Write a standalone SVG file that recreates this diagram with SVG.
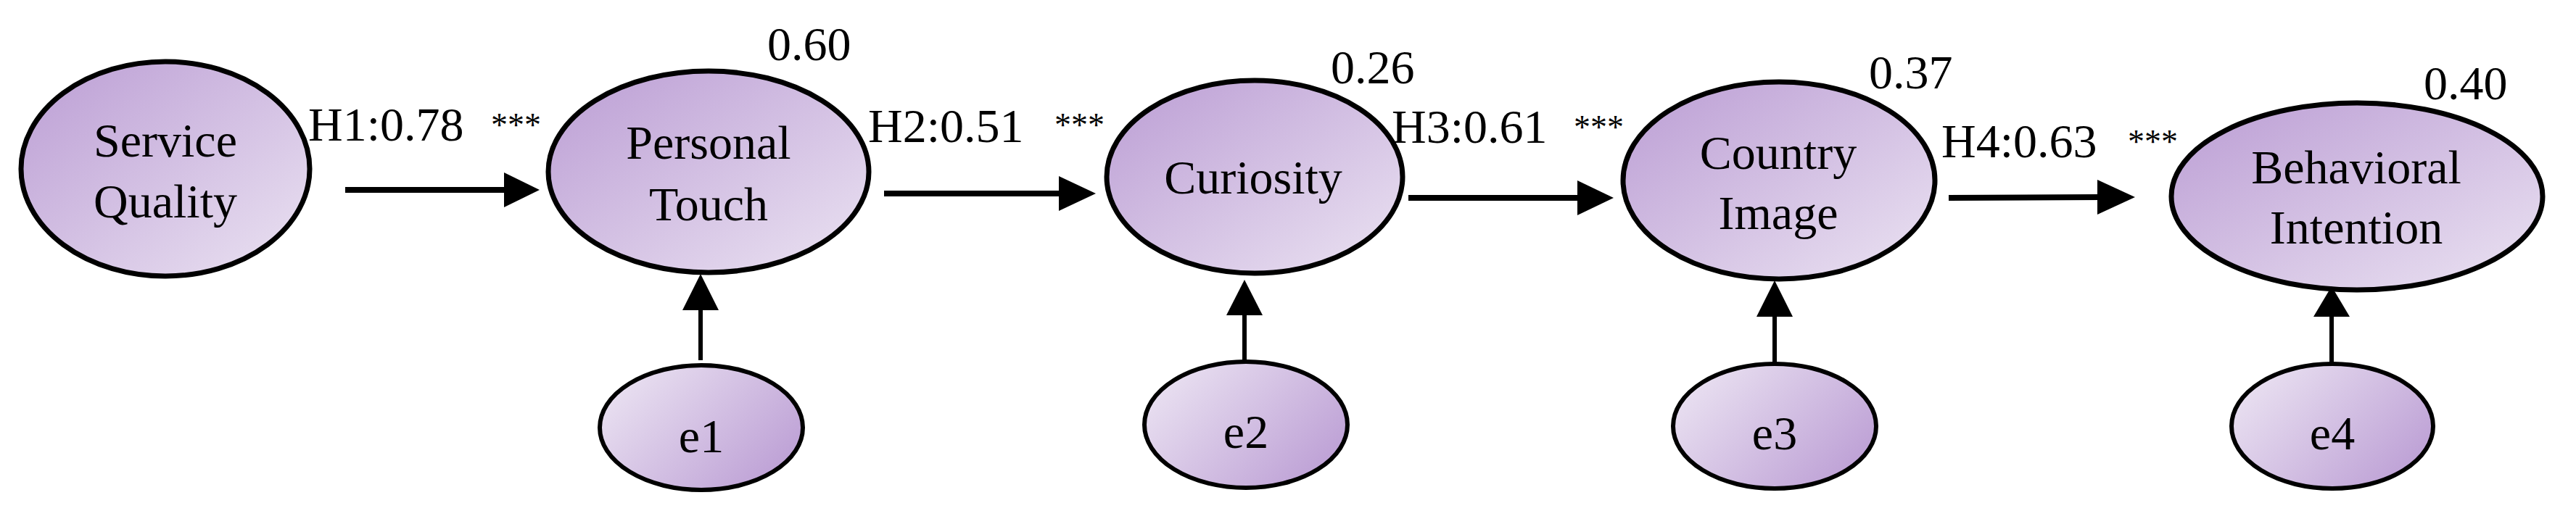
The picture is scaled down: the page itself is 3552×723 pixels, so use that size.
<svg xmlns="http://www.w3.org/2000/svg" width="3552" height="723" viewBox="0 0 3552 723">
<defs>
<linearGradient id="gBig" x1="0" y1="0" x2="1" y2="1"><stop offset="0" stop-color="#bb9dd4"/><stop offset="1" stop-color="#ebe3f2"/></linearGradient>
<linearGradient id="gE" x1="0" y1="0.2" x2="1" y2="0.8"><stop offset="0" stop-color="#ebe3f2"/><stop offset="1" stop-color="#bb9dd4"/></linearGradient>
<style>
.big{fill:url(#gBig);stroke:#000;stroke-width:7}
.err{fill:url(#gE);stroke:#000;stroke-width:6}
text{font-family:"Liberation Serif","Times New Roman",serif;font-size:66px;fill:#000}
.c{text-anchor:middle}
.st{font-size:46px}
.h{stroke:#000;stroke-width:8}
.v{stroke:#000;stroke-width:6}
</style>
</defs>
<g id="n-sq"><ellipse class="big" cx="228" cy="233" rx="199" ry="148"/><text class="c" x="228" y="216">Service</text><text class="c" x="228" y="300">Quality</text></g>
<g id="n-pt"><ellipse class="big" cx="977" cy="237" rx="221" ry="139"/><text class="c" x="977" y="219">Personal</text><text class="c" x="977" y="304">Touch</text></g>
<g id="n-cu"><ellipse class="big" cx="1730" cy="244" rx="204" ry="133"/><text class="c" x="1728" y="267">Curiosity</text></g>
<g id="n-ci"><ellipse class="big" cx="2453" cy="249" rx="215" ry="136"/><text class="c" x="2452" y="233">Country</text><text class="c" x="2452" y="316">Image</text></g>
<g id="n-bi"><ellipse class="big" cx="3250" cy="271" rx="256" ry="129"/><text class="c" x="3249" y="253">Behavioral</text><text class="c" x="3249" y="336">Intention</text></g>
<g id="n-e1"><ellipse class="err" cx="967" cy="590" rx="140" ry="86"/><text class="c" x="967" y="624">e1</text></g>
<g id="n-e2"><ellipse class="err" cx="1718" cy="586" rx="140" ry="87"/><text class="c" x="1718" y="618">e2</text></g>
<g id="n-e3"><ellipse class="err" cx="2447" cy="588" rx="140" ry="86"/><text class="c" x="2447" y="620">e3</text></g>
<g id="n-e4"><ellipse class="err" cx="3216" cy="588" rx="139" ry="86"/><text class="c" x="3216" y="620">e4</text></g>
<g id="connectors">
<line class="h" x1="476" y1="262" x2="700" y2="262"/><polygon points="695,238 744,262 695,286"/>
<line class="h" x1="1219" y1="267" x2="1465" y2="267"/><polygon points="1460,243 1511,267 1460,291"/>
<line class="h" x1="1942" y1="273" x2="2180" y2="273"/><polygon points="2175,249 2225,273 2175,297"/>
<line class="h" x1="2687" y1="273" x2="2897" y2="272"/><polygon points="2892,248 2944,272 2892,296"/>
<line class="v" x1="966" y1="497" x2="966" y2="425"/><polygon points="941,428 966,378 991,428"/>
<line class="v" x1="1716" y1="498" x2="1716" y2="432"/><polygon points="1691,435 1716,386 1741,435"/>
<line class="v" x1="2447" y1="500" x2="2447" y2="434"/><polygon points="2422,437 2447,387 2472,437"/>
<line class="v" x1="3215" y1="500" x2="3215" y2="434"/><polygon points="3190,437 3215,395 3240,437"/>
</g>
<g id="labels">
<text x="425" y="194">H1:0.78</text><text class="st" x="677" y="188">***</text>
<text x="1197" y="196">H2:0.51</text><text class="st" x="1454" y="188">***</text>
<text x="1919" y="197">H3:0.61</text><text class="st" x="2170" y="191">***</text>
<text x="2677" y="217">H4:0.63</text><text class="st" x="2934" y="211">***</text>
<text x="1058" y="83">0.60</text>
<text x="1835" y="115">0.26</text>
<text x="2577" y="122">0.37</text>
<text x="3342" y="137">0.40</text>
</g>
</svg>
